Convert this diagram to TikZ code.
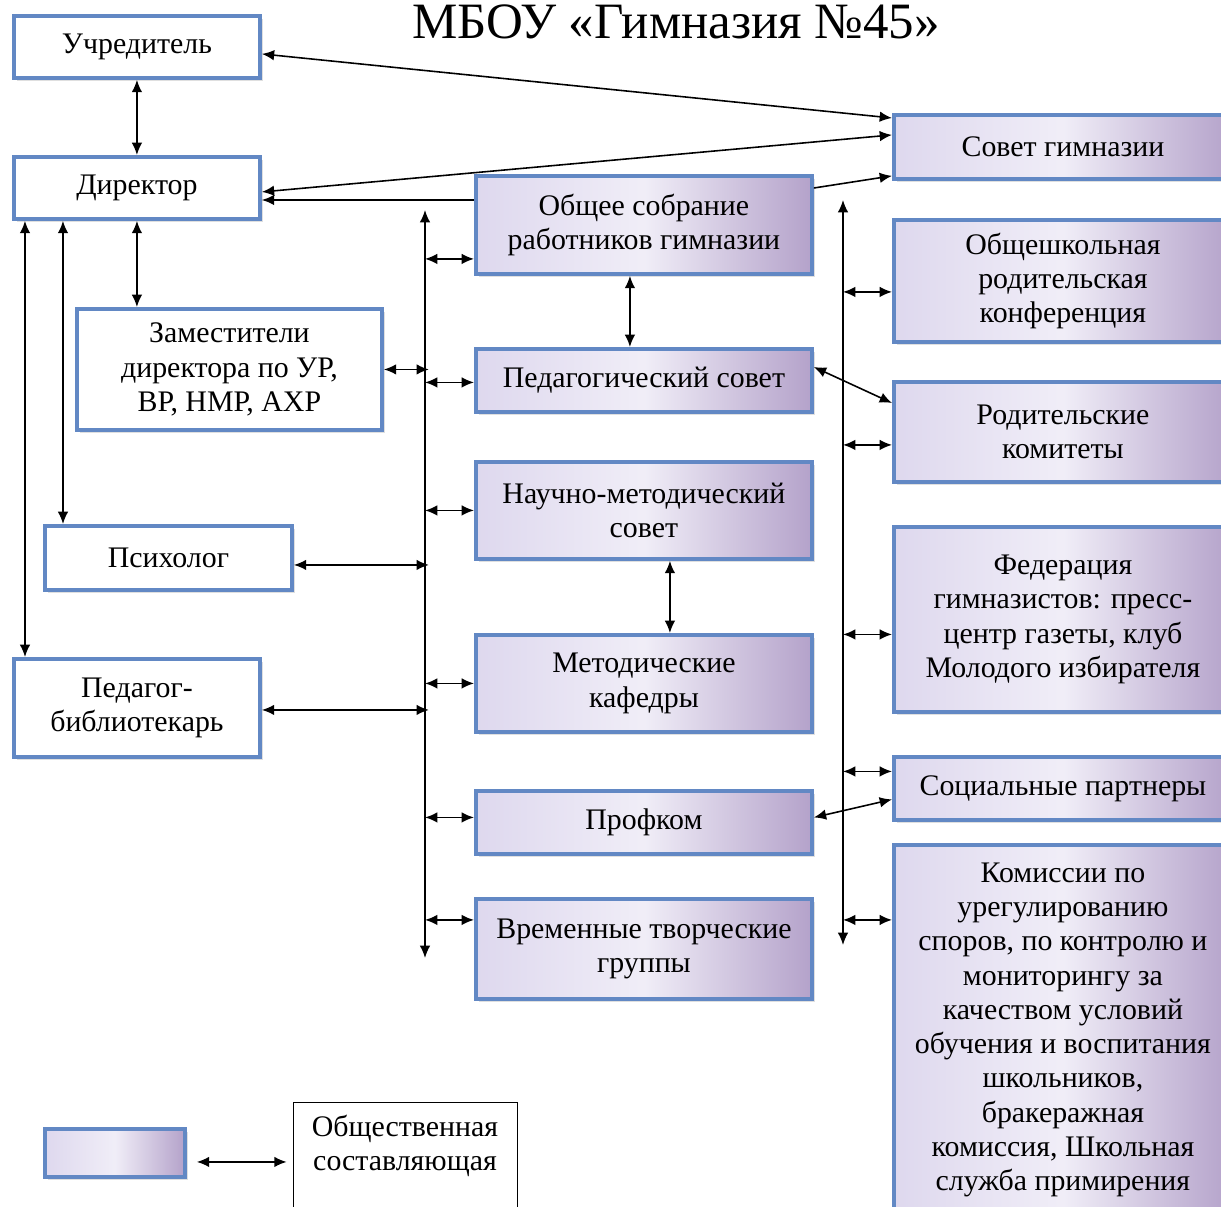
\documentclass[tikz,border=0pt]{standalone}
\usepackage{fontspec}
\setmainfont{Liberation Serif}
\usetikzlibrary{arrows.meta,calc,shadows}

\definecolor{boxblue}{RGB}{98,136,196}
\definecolor{lilac}{RGB}{180,162,202}
\definecolor{lilaclight}{RGB}{222,216,238}

\tikzset{
  boxsize/.style 2 args={minimum width=#1*0.02cm, minimum height=#2*0.02cm},
  plainbox/.style={draw=boxblue, line width=2.2pt, fill=white, anchor=north west,
    align=center, inner sep=2pt, font=\fontsize{17}{19.5}\selectfont,
    drop shadow={shadow xshift=2pt, shadow yshift=-2pt, opacity=0.25}},
  gradbox/.style={plainbox, left color=lilaclight, right color=lilac,
    middle color=white!55!lilaclight},
  legbox/.style={draw, thin, fill=white, anchor=north, align=center,
    inner xsep=2pt, inner ysep=7pt, font=\fontsize{17}{19.5}\selectfont},
  link/.style={{Latex[length=7pt,width=6pt]}-{Latex[length=7pt,width=6pt]}, line width=0.9pt},
  onelink/.style={-{Latex[length=7pt,width=6pt]}, line width=0.9pt}
}

\begin{document}
\begin{tikzpicture}[x=0.02cm, y=-0.02cm]
\useasboundingbox (0,0) rectangle (1221,1207);

\node[font=\fontsize{29}{32}\selectfont] (ttl) at (676,22) {МБОУ «Гимназия №45»};

% left column
\node[plainbox, boxsize={246}{62}] (uch) at (12,14) {Учредитель};
\node[plainbox, boxsize={246}{62}] (dir) at (12,155) {Директор};
\node[plainbox, boxsize={305}{121}] (zam) at (75,307) {Заместители\\директора по УР,\\ВР, НМР, АХР};
\node[plainbox, boxsize={247}{64}] (psy) at (43,524) {Психолог};
\node[plainbox, boxsize={246}{98}] (bib) at (12,657) {Педагог-\\библиотекарь};

% middle column
\node[gradbox, boxsize={336}{98}] (sobr) at (474,174) {Общее собрание\\работников гимназии};
\node[gradbox, boxsize={336}{63}] (ped) at (474,347) {Педагогический совет};
\node[gradbox, boxsize={336}{97}] (nms) at (474,460) {Научно-методический\\совет};
\node[gradbox, boxsize={336}{97}] (kaf) at (474,633) {Методические\\кафедры};
\node[gradbox, boxsize={336}{63}] (prof) at (474,789) {Профком};
\node[gradbox, boxsize={336}{100}] (vtg) at (474,897) {Временные творческие\\группы};

% right column
\node[gradbox, boxsize={338}{64}] (sov) at (892,113) {Совет гимназии};
\node[gradbox, boxsize={338}{122}] (konf) at (892,218) {Общешкольная\\родительская\\конференция};
\node[gradbox, boxsize={338}{100}] (kom) at (892,380) {Родительские\\комитеты};
\node[gradbox, boxsize={338}{185}] (fed) at (892,525) {Федерация\\гимназистов: пресс-\\центр газеты, клуб\\Молодого избирателя};
\node[gradbox, boxsize={338}{63}] (soc) at (892,755) {Социальные партнеры};
\node[gradbox, boxsize={338}{370}] (komis) at (892,843) {Комиссии по\\урегулированию\\споров, по контролю и\\мониторингу за\\качеством условий\\обучения и воспитания\\школьников,\\бракеражная\\комиссия, Школьная\\служба примирения};

% legend
\node[gradbox, boxsize={140}{48}] (leg) at (43,1127) {};
\node[legbox, minimum width=224*0.02cm] (legtxt) at (405,1102) {Общественная\\составляющая\\~};
\coordinate (l1) at ([xshift=0.2cm, yshift=-0.18cm]leg.east);
\draw[link] (l1) -- ([xshift=-0.12cm]l1 -| legtxt.west);

% buses
\coordinate (lbt) at (425,210);
\coordinate (lbb) at (425,958);
\coordinate (rbt) at (843,200);
\coordinate (rbb) at (843,945);
\draw[link] (lbt) -- (lbb);
\draw[link] (rbt) -- (rbb);

\foreach \n/\dy in {sobr/34, ped/2, nms/0, kaf/0, prof/-5, vtg/-29}
  \draw[link] ($(\n.west)+(0,\dy)$) -- +(-49,0);
\foreach \n/\dy in {konf/11, kom/13, fed/15, soc/-17, komis/-110}
  \draw[link] ($(\n.west)+(0,\dy)$) -- +(-49,0);
\foreach \n/\dy/\dx in {zam/0/45, psy/7/135, bib/2/167}
  \draw[link] ($(\n.east)+(0,\dy)$) -- +(\dx,0);

% director links
\draw[link] (uch) -- (dir);
\draw[link] (dir.south) -- (dir.south |- zam.north);
\coordinate (d1) at ([xshift=1.02cm]dir.south west);
\coordinate (d2) at ([xshift=0.26cm]dir.south west);
\draw[link] (d1) -- (d1 |- psy.north);
\draw[link] (d2) -- (d2 |- bib.north);

% council links
\draw[link] ([yshift=-0.14cm]uch.east) -- ([yshift=-0.1cm]sov.north west);
\draw[link] ([yshift=-0.08cm]dir.east) -- ([yshift=0.24cm]sov.west);
\coordinate (s1) at ([yshift=-0.52cm]sobr.north west);
\draw[onelink] (s1) -- (s1 -| dir.east);
\draw[onelink] ([yshift=-0.28cm]sobr.north east) -- ([yshift=0.1cm]sov.south west);

% middle links
\coordinate (s2) at ([xshift=-0.28cm]sobr.south);
\draw[link] (s2) -- (s2 |- ped.north);
\coordinate (s3) at ([xshift=0.52cm]nms.south);
\draw[link] (s3) -- (s3 |- kaf.north);
\draw[link] ([yshift=-0.4cm]ped.north east) -- ([yshift=-0.46cm]kom.north west);
\draw[link] ([yshift=0.1cm]prof.east) -- ([yshift=-0.22cm]soc.west);
\end{tikzpicture}
\end{document}
